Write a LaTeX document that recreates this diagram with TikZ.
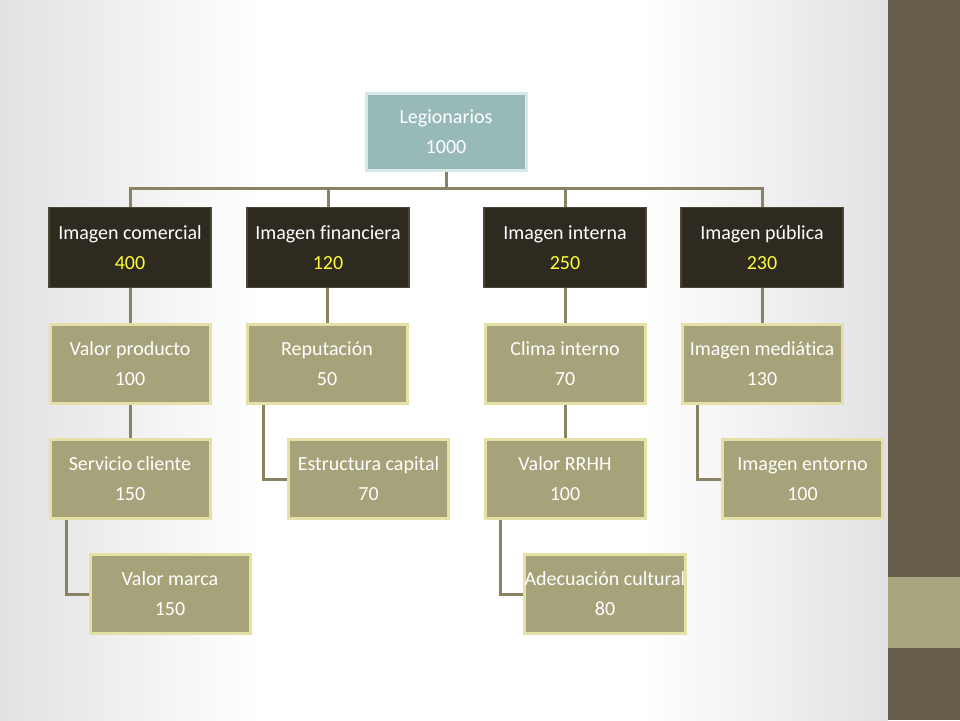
\documentclass[tikz,border=0pt]{standalone}
\usepackage{fontspec}
\setmainfont[Ligatures=NoCommon]{Carlito}
\definecolor{sidebar}{HTML}{665D48}
\definecolor{sideband}{HTML}{A9A57F}
\definecolor{conncol}{HTML}{8A8363}
\definecolor{tanfill}{HTML}{A6A27A}
\definecolor{tanedge}{HTML}{E4E0A6}
\definecolor{darkfill}{HTML}{2E2A1F}
\definecolor{darkedge}{HTML}{4A4535}
\definecolor{rootfill}{HTML}{97B9B7}
\definecolor{rootedge}{HTML}{D6EAE8}
\definecolor{numyellow}{HTML}{FFFF33}
\definecolor{edgegray}{HTML}{E2E2E4}
\begin{document}
\begin{tikzpicture}[x=1pt,y=-1pt,
  boxbase/.style={rectangle, minimum width=160pt, minimum height=79pt, align=center, text=white, inner sep=0pt,
    font=\fontsize{20}{30}\selectfont},
  rootbox/.style={boxbase, fill=rootfill, draw=rootedge, line width=3pt, minimum height=77pt},
  darkbox/.style={boxbase, fill=darkfill, draw=darkedge, line width=1.5pt, minimum width=162pt, minimum height=80pt},
  tanbox/.style={boxbase, fill=tanfill, draw=tanedge, line width=3pt},
  conn/.style={draw=conncol, line width=3pt}]
% background
\useasboundingbox (0,0) rectangle (960,720);
\fill[white] (0,0) rectangle (888,720);
\shade[left color=edgegray, right color=white] (0,0) rectangle (260,720);
\shade[left color=white, right color=edgegray] (640,0) rectangle (888,720);
\fill[sidebar] (888,0) rectangle (960,720);
\fill[sideband] (888,577) rectangle (960,648);
% nodes
\node[rootbox] (root) at (446,132) {Legionarios\\1000};
\node[darkbox] (ic) at (130,247.5) {Imagen comercial\\\textcolor{numyellow}{400}};
\node[darkbox] (if) at (328,247.5) {Imagen financiera\\\textcolor{numyellow}{120}};
\node[darkbox] (ii) at (565,247.5) {Imagen interna\\\textcolor{numyellow}{250}};
\node[darkbox] (ip) at (762,247.5) {Imagen pública\\\textcolor{numyellow}{230}};
\node[tanbox] (vp) at (130,363.5) {Valor producto\\100};
\node[tanbox] (rep) at (327,363.5) {Reputación\\50};
\node[tanbox] (ci) at (565,363.5) {Clima interno\\70};
\node[tanbox] (im) at (762,363.5) {Imagen mediática\\130};
\node[tanbox] (sc) at (130,479) {Servicio cliente\\150};
\node[tanbox] (ec) at (368.5,479) {Estructura capital\\70};
\node[tanbox] (vr) at (565,479) {Valor RRHH\\100};
\node[tanbox] (ie) at (802.5,479) {Imagen entorno\\100};
\node[tanbox] (vm) at (170,594) {Valor marca\\150};
\node[tanbox] (ac) at (605,594) {Adecuación cultural\\80};
% connectors
\draw[conn] (root.south) -- ++(0,16) -| (ic.north);
\draw[conn] (root.south) -- ++(0,16) -| (if.north);
\draw[conn] (root.south) -- ++(0,16) -| (ii.north);
\draw[conn] (root.south) -- ++(0,16) -| (ip.north);
\draw[conn] (ic.south) -- (vp.north);
\draw[conn] (rep.north |- if.south) -- (rep.north);
\draw[conn] (ii.south) -- (ci.north);
\draw[conn] (ip.south) -- (im.north);
\draw[conn] (vp.south) -- (sc.north);
\draw[conn] (ci.south) -- (vr.north);
\draw[conn] ([xshift=-64pt]rep.south) |- (ec.west);
\draw[conn] ([xshift=-64pt]sc.south) |- (vm.west);
\draw[conn] ([xshift=-65pt]vr.south) |- (ac.west);
\draw[conn] ([xshift=-65pt]im.south) |- (ie.west);
\end{tikzpicture}
\end{document}
